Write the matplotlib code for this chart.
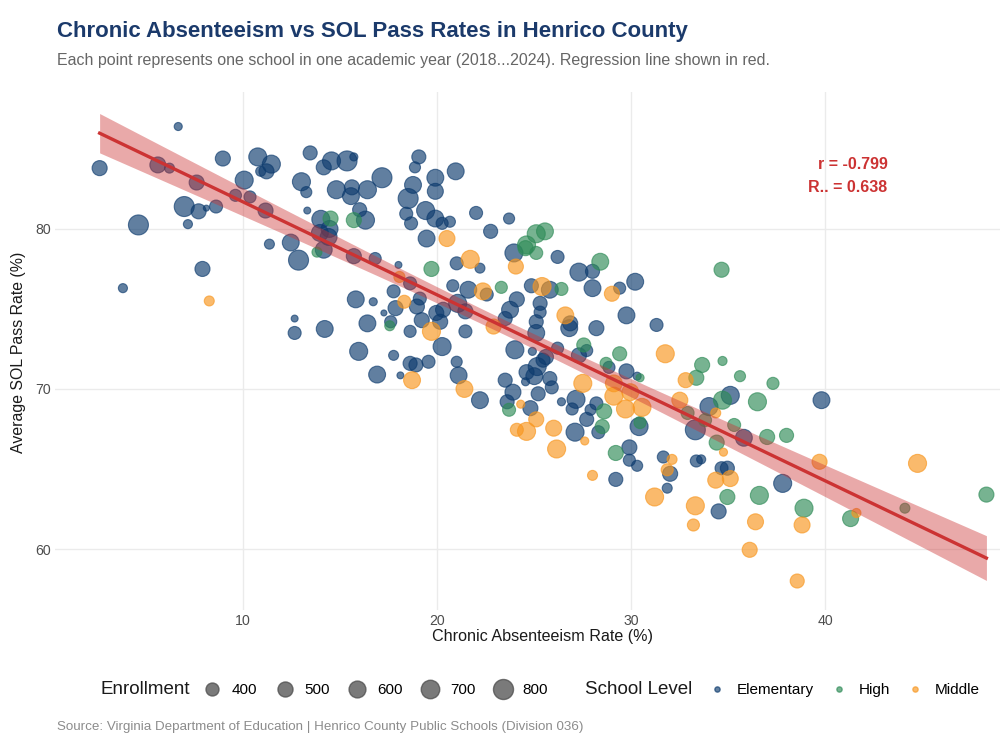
import numpy as np
import matplotlib.pyplot as plt
from matplotlib.lines import Line2D

plt.rcParams['font.family'] = ['Liberation Sans', 'DejaVu Sans']

# Elementary schools: chronic absenteeism (%), SOL pass rate (%), enrollment
elem_absent = [2.6, 3.8, 4.6, 6.65, 5.6, 6.2, 8.95, 7.6, 6.96, 7.7, 8.1, 8.6, 7.15, 7.9,
               9.6, 10.35, 10.05, 10.75, 11.45, 11.2, 10.9, 11.15, 11.35, 12.45, 12.85,
               13.45, 13.0, 13.25, 14.15, 14.55, 15.35, 15.7, 14.8, 15.6, 15.55, 16.4,
               17.15, 13.3, 14.0, 14.45, 13.95, 14.4, 14.15, 16.3, 16.0, 15.7, 16.8,
               15.8, 16.7, 16.4, 14.2, 12.65, 12.65, 19.05, 18.85, 18.75, 18.5, 18.4,
               18.65, 19.4, 19.9, 19.9, 20.95, 19.9, 20.25, 20.65, 19.45, 22.0, 22.75,
               23.7, 21.0, 22.2, 23.95, 26.2, 27.3, 18.0, 18.6, 17.75, 17.85, 18.95,
               19.1, 17.25, 17.6, 19.2, 19.95, 20.3, 20.15, 20.8, 21.6, 21.05, 21.45,
               22.55, 24.1, 23.75, 23.5, 24.85, 25.8, 25.3, 25.3, 25.1, 26.85, 21.45,
               18.6, 15.95, 17.75, 18.6, 18.9, 19.55, 21.0, 16.9, 18.1, 21.1, 22.2,
               20.25, 28.0, 30.2, 29.4, 28.0, 25.1, 26.8, 28.2, 29.75, 24.0, 24.9,
               25.6, 26.2, 27.7, 27.3, 28.85, 29.75, 25.15, 25.45, 25.0, 24.6, 25.8,
               25.9, 23.5, 24.55, 23.9, 25.2, 27.15, 23.6, 24.8, 26.4, 26.95, 27.9,
               28.2, 27.7, 27.1, 28.3, 29.9, 29.9, 30.3, 29.2, 30.4, 31.3, 30.3,
               33.3, 34.0, 35.1, 35.8, 39.8, 37.8, 34.65, 34.95, 34.5, 31.85, 31.65,
               32.0, 33.35, 33.6]
elem_pass = [83.8, 76.3, 80.25, 86.4, 84.0, 83.8, 84.4, 82.9, 81.4, 81.1, 81.3, 81.4, 80.3, 77.5,
             82.1, 82.0, 83.05, 84.5, 84.05, 83.6, 83.6, 81.15, 79.05, 79.15, 78.05,
             84.75, 82.95, 82.3, 83.85, 84.25, 84.25, 84.5, 82.45, 82.6, 82.05, 82.45,
             83.2, 81.15, 80.6, 80.0, 79.75, 79.5, 78.7, 80.55, 81.2, 78.3, 78.15,
             75.6, 75.45, 74.1, 73.75, 74.4, 73.5, 84.5, 83.85, 82.75, 81.9, 80.95,
             80.35, 81.15, 83.2, 82.35, 83.6, 80.65, 80.35, 80.45, 79.4, 81.0, 79.85,
             80.65, 77.85, 77.55, 78.5, 78.25, 77.3, 77.75, 76.6, 76.1, 75.05, 75.15,
             75.65, 74.75, 74.2, 74.3, 74.75, 74.95, 74.2, 76.45, 76.2, 75.35, 74.85,
             75.9, 75.6, 74.95, 74.4, 76.45, 76.2, 75.35, 74.8, 74.2, 74.1, 73.6,
             73.6, 72.35, 72.1, 71.6, 71.5, 71.7, 71.7, 70.9, 70.85, 70.85, 69.3,
             72.65, 77.35, 76.7, 76.3, 76.3, 73.5, 73.8, 73.8, 74.6, 72.45, 72.35,
             72.0, 72.55, 72.4, 72.1, 71.35, 71.1, 71.4, 71.8, 70.8, 71.05, 70.65,
             70.1, 70.55, 70.45, 69.8, 69.7, 69.35, 69.2, 68.8, 69.2, 68.75, 68.7,
             69.1, 68.1, 67.3, 67.3, 66.35, 65.55, 65.2, 64.35, 67.65, 74.0, 70.8,
             67.45, 68.9, 69.6, 66.95, 69.3, 64.1, 65.05, 65.05, 62.35, 63.8, 65.75,
             64.7, 65.5, 65.6]
elem_enroll = [500, 250, 800, 220, 550, 280, 500, 500, 800, 500, 170, 400, 250, 500,
               360, 360, 670, 670, 670, 500, 280, 500, 280, 600, 800,
               450, 670, 320, 500, 670, 800, 220, 670, 500, 600, 670,
               800, 190, 670, 600, 600, 600, 600, 670, 450, 500, 360,
               600, 220, 600, 600, 190, 400, 450, 320, 600, 800, 400,
               400, 670, 600, 550, 600, 600, 360, 320, 600, 400, 450,
               320, 400, 280, 670, 400, 670, 190, 400, 400, 500, 500,
               400, 170, 360, 500, 500, 500, 500, 360, 600, 670, 500,
               400, 500, 600, 450, 450, 600, 450, 360, 450, 500, 400,
               360, 670, 280, 450, 450, 400, 320, 600, 190, 600, 600,
               670, 450, 600, 360, 600, 600, 600, 500, 600, 670, 220,
               500, 360, 360, 500, 360, 500, 670, 450, 600, 500, 450,
               400, 450, 220, 550, 450, 670, 450, 500, 220, 360, 320,
               400, 450, 670, 400, 500, 360, 320, 450, 670, 400, 220,
               800, 670, 670, 600, 600, 670, 400, 450, 500, 280, 360,
               500, 360, 250]

# High schools
high_absent = [14.5, 15.7, 13.8, 17.55, 19.7, 24.6, 25.1, 25.55, 25.1, 24.55, 23.3, 26.4,
               28.4, 27.55, 29.4, 28.7, 30.45, 30.45, 23.7, 28.6, 28.5, 29.2, 34.65,
               33.65, 33.35, 34.7, 35.6, 37.3, 34.7, 35.3, 34.4, 36.5, 37.0, 38.0,
               48.3, 41.3, 38.9, 36.6, 34.95, 32.9, 33.8, 44.1]
high_pass = [80.65, 80.55, 78.55, 73.95, 77.5, 79.0, 79.7, 79.85, 78.5, 78.8, 76.35, 76.25,
             77.95, 72.75, 72.2, 71.6, 67.9, 70.7, 68.7, 68.6, 67.65, 66.0, 77.45,
             71.5, 70.7, 71.75, 70.8, 70.35, 69.3, 67.75, 66.65, 69.2, 67.0, 67.1,
             63.4, 61.9, 62.55, 63.35, 63.25, 68.5, 68.05, 62.55]
high_enroll = [500, 500, 280, 280, 500, 670, 670, 600, 400, 500, 360, 400,
               600, 450, 450, 360, 360, 220, 400, 500, 450, 500, 500,
               500, 500, 250, 320, 360, 670, 400, 500, 670, 500, 450,
               500, 550, 670, 670, 500, 400, 400, 280]

# Middle schools
mid_absent = [8.25, 20.5, 21.7, 24.05, 18.05, 18.3, 22.35, 25.4, 26.6, 19.7, 22.9, 18.7,
              21.4, 29.0, 27.5, 29.1, 29.1, 29.7, 30.55, 29.95, 24.3, 25.1, 24.1, 24.6,
              26.0, 27.6, 26.15, 28.0, 31.75, 32.8, 32.5, 34.35, 34.75, 39.7, 44.75,
              41.6, 38.8, 36.4, 36.1, 38.55, 35.1, 34.35, 33.3, 33.2, 31.2, 32.1, 31.85]
mid_pass = [75.5, 79.4, 78.1, 77.65, 77.0, 75.45, 76.1, 76.4, 74.6, 73.6, 73.9, 70.55,
            70.0, 75.95, 70.35, 70.35, 69.55, 68.75, 68.85, 69.8, 69.05, 68.1, 67.45, 67.35,
            67.55, 66.75, 66.25, 64.6, 72.2, 70.55, 69.3, 68.5, 66.05, 65.45, 65.35,
            62.25, 61.5, 61.7, 59.95, 58.0, 64.4, 64.3, 62.7, 61.5, 63.25, 65.6, 64.95]
mid_enroll = [280, 550, 670, 500, 320, 400, 600, 670, 600, 670, 500, 600,
              600, 500, 670, 600, 670, 670, 670, 600, 220, 500, 400, 670,
              550, 220, 670, 280, 670, 500, 550, 280, 220, 500, 670,
              250, 550, 550, 500, 450, 550, 550, 670, 360, 670, 280, 360]

levels = ['Elementary', 'High', 'Middle']
level_colors = {'Elementary': '#0D3B6E', 'High': '#2E8B57', 'Middle': '#F8961E'}
size_breaks = [400, 500, 600, 700, 800]


def marker_area(enroll):
    # area in pt^2, roughly linear in enrollment
    d_px = np.sqrt(np.maximum(0.578 * np.asarray(enroll, float) - 62, 20))
    return (d_px * 0.72) ** 2


fig = plt.figure(figsize=(10, 7.5), dpi=100)
ax = fig.add_axes([0.055, 0.1867, 0.945, 0.6907])

groups = [('Elementary', elem_absent, elem_pass, elem_enroll),
          ('High', high_absent, high_pass, high_enroll),
          ('Middle', mid_absent, mid_pass, mid_enroll)]
for name, xs_, ys_, es_ in groups:
    c = level_colors[name]
    ax.scatter(xs_, ys_, s=marker_area(es_), color=c, alpha=0.65,
               edgecolors=c, linewidths=0.8, zorder=2)

# linear fit with 95% confidence band
x_all = np.array(elem_absent + high_absent + mid_absent)
y_all = np.array(elem_pass + high_pass + mid_pass)
slope, icept = np.polyfit(x_all, y_all, 1)
n = len(x_all)
resid = y_all - (icept + slope * x_all)
s_err = np.sqrt(np.sum(resid ** 2) / (n - 2))
xbar = x_all.mean()
sxx = np.sum((x_all - xbar) ** 2)
xs = np.linspace(x_all.min(), x_all.max(), 200)
yhat = icept + slope * xs
half = 1.97 * s_err * np.sqrt(1 / n + (xs - xbar) ** 2 / sxx)
ax.fill_between(xs, yhat - half, yhat + half, color='#CC3333', alpha=0.42,
                linewidth=0, zorder=3)
ax.plot(xs, yhat, color='#CC3333', linewidth=2.4, zorder=4)

ax.text(43.2, 84.0, 'r = -0.799', color='#CC3333', fontsize=11.5,
        fontweight='bold', ha='right', va='center', zorder=5)
ax.text(43.2, 82.56, 'R.. = 0.638', color='#CC3333', fontsize=11.5,
        fontweight='bold', ha='right', va='center', zorder=5)

ax.set_xlim(0.3, 49.0)
ax.set_ylim(56.19, 88.56)
ax.set_xticks([10, 20, 30, 40])
ax.set_yticks([60, 70, 80])
ax.grid(True, color='#EBEBEB', linewidth=1.0, zorder=0)
ax.set_axisbelow(True)
for sp in ax.spines.values():
    sp.set_visible(False)
ax.tick_params(length=0, labelsize=10.2, labelcolor='#4D4D4D', pad=3)

fig.text(0.543, 1 - 637 / 750, 'Chronic Absenteeism Rate (%)', ha='center',
         va='center', fontsize=11.6, color='#1A1A1A')
fig.text(0.019, 1 - 352 / 750, 'Average SOL Pass Rate (%)', ha='center',
         va='center', rotation=90, fontsize=11.4, color='#1A1A1A')

fig.text(0.057, 1 - 31 / 750, 'Chronic Absenteeism vs SOL Pass Rates in Henrico County',
         fontsize=16, fontweight='bold', color='#1B3A6B', ha='left', va='center')
fig.text(0.057, 1 - 60 / 750,
         'Each point represents one school in one academic year (2018...2024). '
         'Regression line shown in red.',
         fontsize=11.5, color='#666666', ha='left', va='center')
fig.text(0.057, 1 - 727 / 750,
         'Source: Virginia Department of Education | Henrico County Public Schools (Division 036)',
         fontsize=9.6, color='#8C8C8C', ha='left', va='center')

# bottom legends
leg_y = 1 - 690 / 750
fig.text(0.100, leg_y, 'Enrollment', fontsize=13.5, color='#1A1A1A', ha='left', va='center')
size_handles = [Line2D([], [], linestyle='none', marker='o',
                       markersize=np.sqrt(marker_area([e])[0]),
                       markerfacecolor='#4D4D4D', markeredgecolor='#4D4D4D',
                       alpha=0.75) for e in size_breaks]
leg1 = fig.legend(size_handles, [str(e) for e in size_breaks], loc='center left',
                  bbox_to_anchor=(0.204, leg_y), ncol=5, frameon=False,
                  fontsize=11, handletextpad=0.8, columnspacing=1.3,
                  borderaxespad=0, borderpad=0, handlelength=1.0)

fig.text(0.585, leg_y, 'School Level', fontsize=13.5, color='#1A1A1A', ha='left', va='center')
lvl_handles = [Line2D([], [], linestyle='none', marker='o', markersize=3.8,
                      markerfacecolor=level_colors[l], markeredgecolor=level_colors[l],
                      alpha=0.65) for l in levels]
leg2 = fig.legend(lvl_handles, levels, loc='center left',
                  bbox_to_anchor=(0.709, leg_y), ncol=3, frameon=False,
                  fontsize=11, handletextpad=0.8, columnspacing=1.15,
                  borderaxespad=0, borderpad=0, handlelength=1.0)

fig.savefig('out.png', dpi=100)
